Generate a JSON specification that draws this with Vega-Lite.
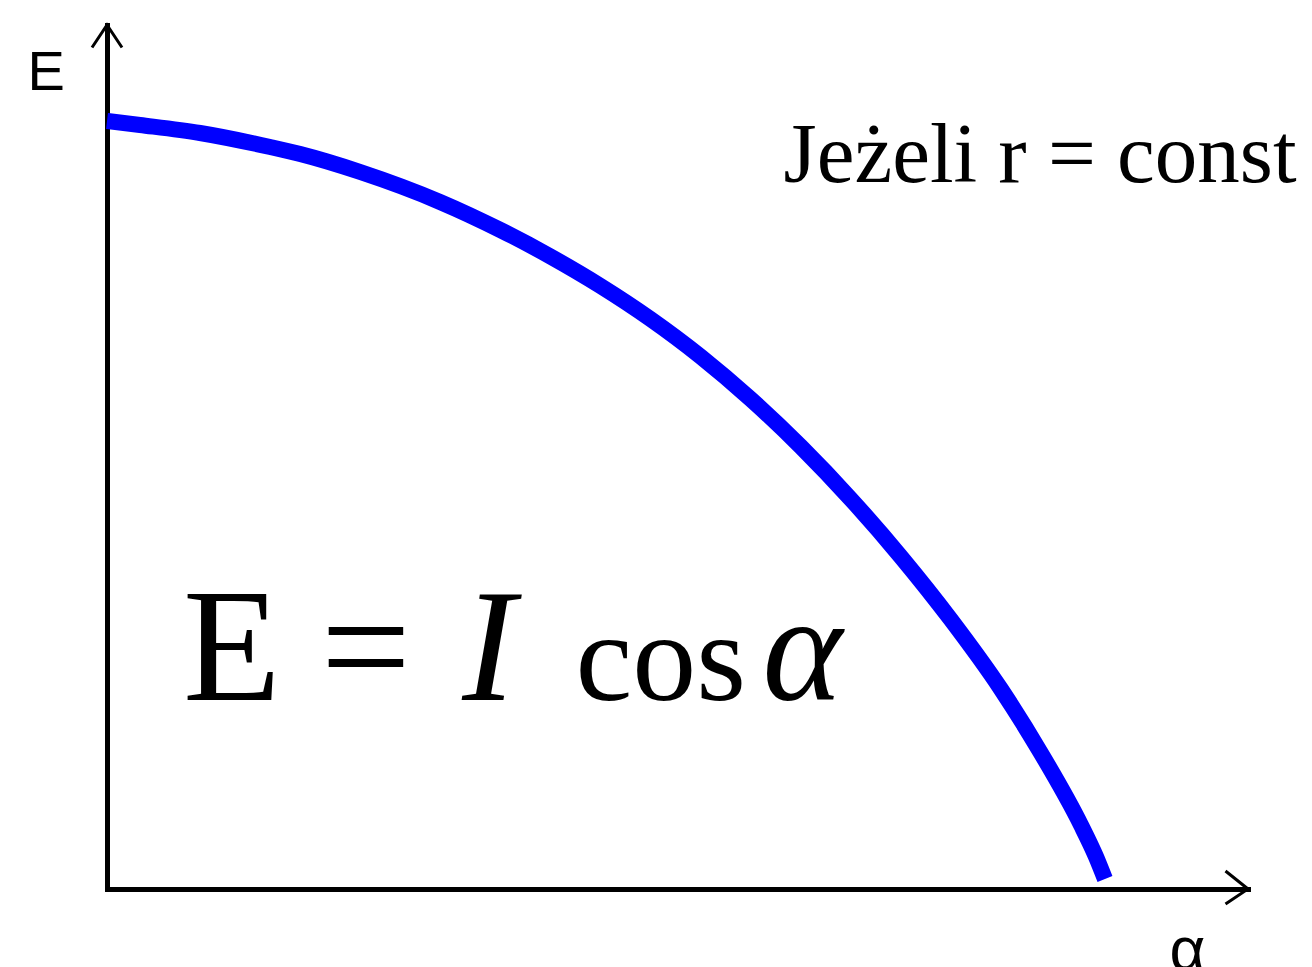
{
  "$schema": "https://vega.github.io/schema/vega-lite/v6.json",
  "width": 1141,
  "height": 864,
  "autosize": "none",
  "padding": {"left": 107, "top": 25, "right": 64, "bottom": 78},
  "background": "white",
  "view": {"stroke": null},
  "config": {
    "axis": {
      "grid": false,
      "ticks": false,
      "labels": false,
      "domainColor": "black",
      "domainWidth": 5,
      "domainCap": "square",
      "titleFont": "Liberation Sans",
      "titleFontSize": 56,
      "titleFontWeight": "normal",
      "titleColor": "black",
      "titleAlign": "left",
      "titleBaseline": "alphabetic",
      "titleAngle": 0
    }
  },
  "layer": [
    {
      "data": {
        "values": [
          {"alpha": 0, "E": 1.0},
          {"alpha": 2.98, "E": 0.9948},
          {"alpha": 8.4, "E": 0.9844},
          {"alpha": 14.73, "E": 0.9661},
          {"alpha": 17.44, "E": 0.957},
          {"alpha": 22.86, "E": 0.9336},
          {"alpha": 30.09, "E": 0.8945},
          {"alpha": 35.51, "E": 0.8581},
          {"alpha": 40.03, "E": 0.8236},
          {"alpha": 44.55, "E": 0.7852},
          {"alpha": 49.06, "E": 0.7422},
          {"alpha": 53.58, "E": 0.6934},
          {"alpha": 58.1, "E": 0.638},
          {"alpha": 62.62, "E": 0.5762},
          {"alpha": 67.14, "E": 0.5078},
          {"alpha": 71.65, "E": 0.4329},
          {"alpha": 76.17, "E": 0.3509},
          {"alpha": 80.69, "E": 0.2604},
          {"alpha": 84.3, "E": 0.1771},
          {"alpha": 87.92, "E": 0.0833},
          {"alpha": 89.27, "E": 0.0423},
          {"alpha": 90.09, "E": 0.013}
        ]
      },
      "mark": {"type": "line", "color": "#0000ff", "strokeWidth": 16, "interpolate": "monotone", "strokeCap": "butt"},
      "encoding": {
        "x": {
          "field": "alpha",
          "type": "quantitative",
          "scale": {"domain": [0, 103], "nice": false, "zero": false},
          "axis": {"title": "α", "titleX": 1062, "titleY": 80, "titleFontSize": 62}
        },
        "y": {
          "field": "E",
          "type": "quantitative",
          "scale": {"domain": [0, 1.125], "nice": false, "zero": false},
          "axis": {"title": "E", "titleX": -80, "titleY": 64}
        }
      }
    },
    {
      "data": {
        "values": [
          {"alpha": 0, "E": 1.125, "arrow": "up"},
          {"alpha": 103, "E": 0, "arrow": "right"}
        ]
      },
      "mark": {"type": "point", "filled": false, "size": 900, "strokeWidth": 3, "color": "black", "opacity": 1},
      "encoding": {
        "x": {"field": "alpha", "type": "quantitative"},
        "y": {"field": "E", "type": "quantitative"},
        "shape": {
          "field": "arrow",
          "type": "nominal",
          "scale": {"domain": ["up", "right"], "range": ["M-1,1.5L0,0L1,1.5", "M-1.5,-1.2L0,0L-1.5,1"]},
          "legend": null
        }
      }
    },
    {
      "data": {"values": [{"alpha": 61.08, "E": 0.9206, "label": "Jeżeli r = const"}]},
      "mark": {"type": "text", "font": "Liberation Serif", "fontSize": 85, "align": "left", "baseline": "alphabetic", "color": "black"},
      "encoding": {
        "x": {"field": "alpha", "type": "quantitative"},
        "y": {"field": "E", "type": "quantitative"},
        "text": {"field": "label"}
      }
    },
    {
      "data": {"values": [{"alpha": 6.87, "E": 0.2461, "label": "E ="}]},
      "mark": {"type": "text", "font": "Liberation Serif", "fontSize": 160, "align": "left", "baseline": "alphabetic", "color": "black"},
      "encoding": {
        "x": {"field": "alpha", "type": "quantitative"},
        "y": {"field": "E", "type": "quantitative"},
        "text": {"field": "label"}
      }
    },
    {
      "data": {"values": [{"alpha": 32.08, "E": 0.2461, "label": "I"}]},
      "mark": {"type": "text", "font": "Liberation Serif", "fontStyle": "italic", "fontSize": 160, "align": "left", "baseline": "alphabetic", "color": "black"},
      "encoding": {
        "x": {"field": "alpha", "type": "quantitative"},
        "y": {"field": "E", "type": "quantitative"},
        "text": {"field": "label"}
      }
    },
    {
      "data": {"values": [{"alpha": 42.29, "E": 0.2461, "label": "cos"}]},
      "mark": {"type": "text", "font": "Liberation Serif", "fontSize": 128, "align": "left", "baseline": "alphabetic", "color": "black"},
      "encoding": {
        "x": {"field": "alpha", "type": "quantitative"},
        "y": {"field": "E", "type": "quantitative"},
        "text": {"field": "label"}
      }
    },
    {
      "data": {"values": [{"alpha": 59.18, "E": 0.2461, "label": "α"}]},
      "mark": {"type": "text", "font": "Liberation Serif", "fontStyle": "italic", "fontSize": 152, "align": "left", "baseline": "alphabetic", "color": "black"},
      "encoding": {
        "x": {"field": "alpha", "type": "quantitative"},
        "y": {"field": "E", "type": "quantitative"},
        "text": {"field": "label"}
      }
    }
  ]
}
